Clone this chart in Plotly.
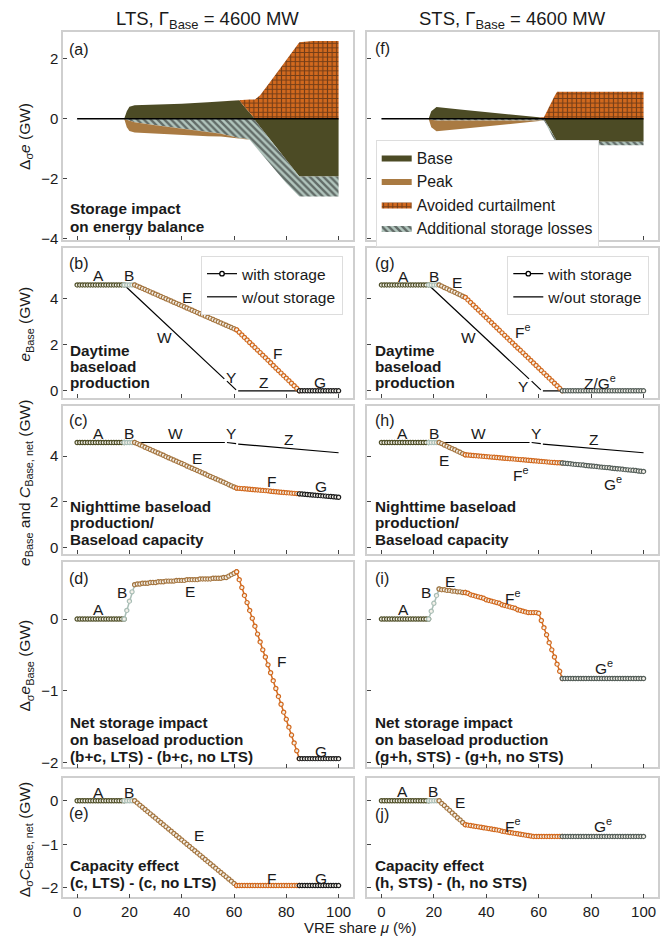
import plotly.graph_objects as go

W, H = 671, 943

# ---------------- data ----------------
mu = list(range(101))
xticks = [0, 20, 40, 60, 80, 100]

# segment boundaries (indices into mu) for A, B, E, F, G
lts_bounds = [0, 18, 22, 61, 85, 100]
sts_bounds = [0, 18, 22, 32, 69, 100]

# (b) LTS daytime baseload production, with storage
b_lts = [4.6] * 23 + [
    4.55, 4.50, 4.45, 4.40, 4.35, 4.30, 4.25, 4.20, 4.15, 4.10, 4.05, 4.00, 3.95,
    3.90, 3.85, 3.80, 3.75, 3.70, 3.65, 3.60, 3.55, 3.50, 3.45, 3.40, 3.35, 3.30,
    3.25, 3.20, 3.15, 3.10, 3.05, 3.00, 2.95, 2.90, 2.85, 2.80, 2.75, 2.70, 2.65] + [
    2.54, 2.43, 2.32, 2.21, 2.10, 1.99, 1.88, 1.77, 1.66, 1.55, 1.44, 1.33, 1.22,
    1.10, 0.99, 0.88, 0.77, 0.66, 0.55, 0.44, 0.33, 0.22, 0.11, 0.00] + [0.0] * 15

# (c) LTS nighttime baseload production / capacity
c_lts = [4.6] * 23 + [
    4.55, 4.50, 4.45, 4.39, 4.34, 4.29, 4.24, 4.19, 4.14, 4.09, 4.04, 3.98, 3.93,
    3.88, 3.83, 3.78, 3.73, 3.68, 3.63, 3.57, 3.52, 3.47, 3.42, 3.37, 3.32, 3.27,
    3.22, 3.16, 3.11, 3.06, 3.01, 2.96, 2.91, 2.86, 2.81, 2.75, 2.70, 2.65, 2.60] + [
    2.59, 2.58, 2.57, 2.56, 2.55, 2.54, 2.53, 2.52, 2.51, 2.50, 2.49, 2.48, 2.46,
    2.45, 2.44, 2.43, 2.42, 2.41, 2.40, 2.39, 2.38, 2.37, 2.36, 2.35] + [
    2.34, 2.33, 2.32, 2.31, 2.30, 2.29, 2.28, 2.27, 2.26, 2.25, 2.24, 2.23, 2.22,
    2.21, 2.20]

# (d) LTS net storage impact on baseload production
d_lts = [0.0] * 19 + [0.12, 0.25, 0.38, 0.48] + [
    0.49, 0.49, 0.50, 0.50, 0.50, 0.51, 0.51, 0.51, 0.52, 0.52, 0.52, 0.53, 0.53,
    0.53, 0.53, 0.54, 0.54, 0.54, 0.54, 0.55, 0.55, 0.55, 0.55, 0.55, 0.56, 0.56,
    0.56, 0.56, 0.56, 0.57, 0.57, 0.57, 0.57, 0.58, 0.58, 0.60, 0.62, 0.64, 0.66] + [
    0.55, 0.44, 0.33, 0.23, 0.12, 0.01, -0.10, -0.21, -0.32, -0.43, -0.53, -0.64,
    -0.75, -0.86, -0.97, -1.08, -1.19, -1.30, -1.40, -1.51, -1.62, -1.73, -1.84,
    -1.95] + [-1.95] * 15

# (e) LTS capacity effect
e_lts = [0.0] * 23 + [
    -0.05, -0.10, -0.15, -0.20, -0.25, -0.30, -0.35, -0.40, -0.45, -0.50, -0.55,
    -0.60, -0.65, -0.70, -0.75, -0.80, -0.85, -0.90, -0.95, -1.00, -1.05, -1.10,
    -1.15, -1.20, -1.25, -1.30, -1.35, -1.40, -1.45, -1.50, -1.55, -1.60, -1.65,
    -1.70, -1.75, -1.80, -1.85, -1.90, -1.95] + [-1.95] * 24 + [-1.95] * 15

# (g) STS daytime
g_sts = [4.6] * 23 + [4.55, 4.49, 4.44, 4.38, 4.33, 4.28, 4.22, 4.17, 4.11, 4.06] + [
    3.95, 3.84, 3.73, 3.62, 3.51, 3.40, 3.29, 3.18, 3.07, 2.96, 2.85, 2.74, 2.63,
    2.52, 2.41, 2.30, 2.19, 2.08, 1.97, 1.86, 1.76, 1.65, 1.54, 1.43, 1.32, 1.21,
    1.10, 0.99, 0.88, 0.77, 0.66, 0.55, 0.44, 0.33, 0.22, 0.11, 0.00] + [0.0] * 31

# (h) STS nighttime
h_sts = [4.6] * 23 + [4.55, 4.49, 4.44, 4.38, 4.33, 4.28, 4.22, 4.17, 4.11, 4.06] + [
    4.05, 4.04, 4.03, 4.02, 4.01, 4.00, 3.99, 3.98, 3.97, 3.96, 3.95, 3.94, 3.93,
    3.92, 3.91, 3.90, 3.89, 3.88, 3.87, 3.86, 3.85, 3.84, 3.83, 3.82, 3.81, 3.80,
    3.79, 3.78, 3.77, 3.76, 3.75, 3.74, 3.73, 3.72, 3.71, 3.71, 3.70] + [
    3.69, 3.68, 3.67, 3.65, 3.64, 3.63, 3.62, 3.61, 3.59, 3.58, 3.57, 3.56, 3.55,
    3.53, 3.52, 3.51, 3.50, 3.49, 3.47, 3.46, 3.45, 3.44, 3.43, 3.41, 3.40, 3.39,
    3.38, 3.37, 3.35, 3.34, 3.33]

# (i) STS net impact
i_sts = [0.0] * 19 + [0.11, 0.22, 0.33, 0.42] + [
    0.41, 0.41, 0.40, 0.40, 0.39, 0.39, 0.38, 0.38, 0.37, 0.37] + [
    0.36, 0.34, 0.33, 0.32, 0.31, 0.30, 0.29, 0.27, 0.26, 0.25, 0.24, 0.23, 0.22,
    0.20, 0.19, 0.18, 0.17, 0.16, 0.15, 0.13, 0.12, 0.11, 0.10, 0.09, 0.09, 0.09,
    0.09, 0.08, -0.02, -0.12, -0.22, -0.33, -0.43, -0.53, -0.63, -0.73, -0.83] + [-0.83] * 31

# (j) STS capacity effect
j_sts = [0.0] * 23 + [-0.06, -0.11, -0.17, -0.22, -0.28, -0.33, -0.39, -0.44, -0.50, -0.55] + [
    -0.56, -0.57, -0.58, -0.59, -0.60, -0.61, -0.62, -0.63, -0.64, -0.65, -0.66,
    -0.67, -0.68, -0.70, -0.71, -0.72, -0.73, -0.74, -0.75, -0.76, -0.77, -0.78,
    -0.79, -0.80, -0.81] + [-0.82] * 12 + [-0.82] * 31

# without-storage reference lines (W, Y, Z segments)
wo_day_x = [18, 56.3, None, 57.3, 60.8, None, 61.6, 100]
wo_day_y = [4.6, 0.52, None, 0.42, 0.04, None, 0.0, 0.0]
wo_night_x = [18, 56.5, None, 57.3, 60.8, None, 61.6, 100]
wo_night_y = [4.6, 4.6, None, 4.6, 4.55, None, 4.53, 4.15]

# (a) LTS energy balance components
mu_a = [0, 18, 19, 20, 22, 30, 40, 50, 55, 60, 62, 64, 66, 68, 70, 75, 80, 85, 90, 100]
base_pos_a = [0, 0, 0.25, 0.40, 0.45, 0.47, 0.50, 0.55, 0.58, 0.62, 0.62, 0.40, 0.18, 0, 0, 0, 0, 0, 0, 0]
curt_a = [0, 0, 0, 0, 0, 0, 0, 0, 0, 0, 0.02, 0.24, 0.46, 0.64, 0.78, 1.37, 1.96, 2.55, 2.59, 2.59]
base_neg_a = [0, 0, 0, 0, 0, 0, 0, 0, 0, 0, 0, 0, 0, -0.05, -0.27, -0.83, -1.39, -1.93, -1.93, -1.93]
loss_a = [0, 0, -0.03, -0.06, -0.12, -0.22, -0.33, -0.45, -0.50, -0.60, -0.65, -0.66, -0.70, -0.86, -0.85, -0.80, -0.76, -0.66, -0.66, -0.66]
peak_a = [0, 0, -0.25, -0.35, -0.34, -0.28, -0.21, -0.13, -0.09, -0.03, 0, 0, 0, 0, 0, 0, 0, 0, 0, 0]

# (f) STS energy balance components
mu_f = [0, 18, 19, 21, 30, 40, 50, 60, 62, 64, 66, 67, 70, 80, 90, 100]
base_pos_f = [0, 0, 0.25, 0.39, 0.31, 0.22, 0.13, 0.05, 0, 0, 0, 0, 0, 0, 0, 0]
curt_f = [0, 0, 0, 0, 0, 0, 0, 0, 0.05, 0.42, 0.75, 0.90, 0.90, 0.90, 0.90, 0.90]
base_neg_f = [0, 0, 0, 0, 0, 0, 0, 0, 0, -0.30, -0.60, -0.77, -0.77, -0.77, -0.77, -0.77]
loss_f = [0, 0, -0.03, -0.06, -0.06, -0.06, -0.06, -0.06, -0.06, -0.08, -0.10, -0.11, -0.11, -0.11, -0.11, -0.11]
peak_f = [0, 0, -0.25, -0.36, -0.28, -0.19, -0.10, -0.01, 0, 0, 0, 0, 0, 0, 0, 0]

zero_x = [0, 100]
zero_y = [0, 0]

# ---------------- styles ----------------
C_BASE = "#4c4b25"
C_PEAK = "#a97a42"
C_CURT = "#d2691e"
C_LOSS = "#b2c6be"
seg_col_lts = ["#4f4f28", "#a9beb6", "#a57641", "#d2691e", "#1c1c1c"]
seg_col_sts = ["#4f4f28", "#a9beb6", "#a57641", "#d2691e", "#56605b"]
MARKER_FILL = "#f4f1ea"
FONT = "Liberation Sans, Arial, Helvetica, sans-serif"
TXT = "#1a1a1a"


def py(v):
    return 1 - v / H


XL = [63 / W, 352.7 / W]
XR = [367.3 / W, 657.7 / W]
rows_px = [(32, 242), (250, 400.7), (409, 558), (566.7, 773), (784, 904)]
yranges = [[-4.05, 2.9], [-0.3, 6.2], [-0.28, 6.2], [-2.07, 0.79], [-2.22, 0.52]]
ytickvals = [[-4, -2, 0, 2], [0, 2, 4], [0, 2, 4], [-2, -1, 0], [-2, -1, 0]]


def names(p):
    return ("x" if p == 1 else f"x{p}", "y" if p == 1 else f"y{p}")


fig = go.Figure()


def add_areas(p, xs, bp, cu, bn, lo, pk, show):
    xa, ya = names(p)
    grp_p, grp_n = f"pos{p}", f"neg{p}"
    common = dict(x=xs, xaxis=xa, yaxis=ya, mode="lines", line=dict(width=0),
                  hoverinfo="skip", legend="legend")
    fig.add_trace(go.Scatter(y=bp, stackgroup=grp_p, fillcolor=C_BASE, name="Base",
                             showlegend=show, legendrank=1, **common))
    fig.add_trace(go.Scatter(y=cu, stackgroup=grp_p, fillcolor=C_CURT, name="Avoided curtailment",
                             fillpattern=dict(shape="+", fgcolor="#111111", bgcolor=C_CURT,
                                              size=4.6, solidity=0.42),
                             showlegend=show, legendrank=3, **common))
    fig.add_trace(go.Scatter(y=bn, stackgroup=grp_n, fillcolor=C_BASE, name="Base",
                             showlegend=False, **common))
    fig.add_trace(go.Scatter(y=lo, stackgroup=grp_n, fillcolor=C_LOSS, name="Additional storage losses",
                             fillpattern=dict(shape="\\", fgcolor="#111111", bgcolor=C_LOSS,
                                              size=4.8, solidity=0.5),
                             showlegend=show, legendrank=4, **common))
    fig.add_trace(go.Scatter(y=pk, stackgroup=grp_n, fillcolor=C_PEAK, name="Peak",
                             showlegend=show, legendrank=2, **common))
    fig.add_trace(go.Scatter(x=zero_x, y=zero_y, xaxis=xa, yaxis=ya, mode="lines",
                             line=dict(color="black", width=1.3), showlegend=False,
                             hoverinfo="skip"))


def add_wo(p, xs, ys):
    xa, ya = names(p)
    fig.add_trace(go.Scatter(x=xs, y=ys, xaxis=xa, yaxis=ya, mode="lines",
                             line=dict(color="black", width=1.2), showlegend=False,
                             hoverinfo="skip", connectgaps=False))


def add_series(p, vals, bounds, cols):
    xa, ya = names(p)
    for k in range(5):
        i0, i1 = bounds[k], bounds[k + 1]
        fig.add_trace(go.Scatter(
            x=mu[i0:i1 + 1], y=vals[i0:i1 + 1], xaxis=xa, yaxis=ya,
            mode="lines+markers", line=dict(color=cols[k], width=1.5),
            marker=dict(symbol="circle", size=4.2, color=MARKER_FILL,
                        line=dict(color=cols[k], width=1.2)),
            showlegend=False, hoverinfo="skip"))


# panel a / f
add_areas(1, mu_a, base_pos_a, curt_a, base_neg_a, loss_a, peak_a, False)
add_areas(6, mu_f, base_pos_f, curt_f, base_neg_f, loss_f, peak_f, True)

# panels b,c,g,h without storage
add_wo(2, wo_day_x, wo_day_y)
add_wo(3, wo_night_x, wo_night_y)
add_wo(7, wo_day_x, wo_day_y)
add_wo(8, wo_night_x, wo_night_y)

for p, vals in [(2, b_lts), (3, c_lts), (4, d_lts), (5, e_lts)]:
    add_series(p, vals, lts_bounds, seg_col_lts)
for p, vals in [(7, g_sts), (8, h_sts), (9, i_sts), (10, j_sts)]:
    add_series(p, vals, sts_bounds, seg_col_sts)

# legend dummies for b and g
for p, lg in [(2, "legend2"), (7, "legend3")]:
    xa, ya = names(p)
    fig.add_trace(go.Scatter(x=[None], y=[None], xaxis=xa, yaxis=ya, mode="lines+markers",
                             line=dict(color="black", width=1.2),
                             marker=dict(symbol="circle", size=4.5, color="white",
                                         line=dict(color="black", width=1.3)),
                             name="with storage", legend=lg, hoverinfo="skip"))
    fig.add_trace(go.Scatter(x=[None], y=[None], xaxis=xa, yaxis=ya, mode="lines",
                             line=dict(color="black", width=1.2),
                             name="w/out storage", legend=lg, hoverinfo="skip"))

# ---------------- axes ----------------
axcommon = dict(showline=True, mirror=True, linecolor="#cfcfcf", linewidth=1.5,
                ticks="inside", ticklen=4, tickwidth=1, tickcolor="#444444",
                showgrid=False, zeroline=False,
                tickfont=dict(size=15, color=TXT, family=FONT), fixedrange=True)
layout_axes = {}
for col in range(2):
    for row in range(5):
        p = col * 5 + row + 1
        xa, ya = names(p)
        xk = "xaxis" if p == 1 else f"xaxis{p}"
        yk = "yaxis" if p == 1 else f"yaxis{p}"
        layout_axes[xk] = dict(domain=XL if col == 0 else XR, anchor=ya,
                               range=[-5.4, 105.4], tickvals=xticks,
                               showticklabels=(row == 4), **axcommon)
        layout_axes[yk] = dict(domain=[py(rows_px[row][1]), py(rows_px[row][0])],
                               anchor=xa, range=yranges[row], tickvals=ytickvals[row],
                               showticklabels=(col == 0), **axcommon)

# ---------------- annotations ----------------
ann = []


def txt(x, y, s, size=15, xanchor="center", yanchor="middle", angle=0, xref="paper", yref="paper"):
    ann.append(dict(x=x, y=y, text=s, xref=xref, yref=yref, showarrow=False,
                    xanchor=xanchor, yanchor=yanchor, textangle=angle,
                    font=dict(size=size, color=TXT, family=FONT)))


# column titles
txt(207.9 / W, py(20), "LTS, Γ<sub>Base</sub> = 4600 MW", size=18.5)
txt(512.5 / W, py(20), "STS, Γ<sub>Base</sub> = 4600 MW", size=18.5)

# y-axis titles
ytitles = [("Δ<sub>σ</sub><i>e</i> (GW)", 137.5),
           ("<i>e</i><sub>Base</sub> (GW)", 326.5),
           ("<i>e</i><sub>Base</sub> and <i>C</i><sub>Base, net</sub> (GW)", 487),
           ("Δ<sub>σ</sub><i>e</i><sub>Base</sub> (GW)", 671),
           ("Δ<sub>σ</sub><i>C</i><sub>Base, net</sub> (GW)", 846)]
for s, yc in ytitles:
    txt(25.5 / W, py(yc), s, size=15.5, angle=-90)

# x-axis title
txt(360 / W, py(934), "VRE share <i>μ</i> (%)", size=15)

# panel letters
letters = [("(a)", 67, 49.5), ("(b)", 67, 265.5), ("(c)", 67, 424), ("(d)", 67, 582.5), ("(e)", 67, 819.5),
           ("(f)", 373, 48.5), ("(g)", 373, 265.5), ("(h)", 373, 424), ("(i)", 373, 582.5), ("(j)", 373, 820.5)]
for s, x, y in letters:
    txt(x / W, py(y), s, size=16, xanchor="left")

# bold descriptions (one annotation per line)
blocks = [
    (68, [210.5, 228], ["Storage impact", "on energy balance"]),
    (68, [352.7, 369.2, 385.7], ["Daytime", "baseload", "production"]),
    (372.5, [352.7, 369.2, 385.7], ["Daytime", "baseload", "production"]),
    (68, [510, 526.7, 543.3], ["Nighttime baseload", "production/", "Baseload capacity"]),
    (372.5, [510, 526.7, 543.3], ["Nighttime baseload", "production/", "Baseload capacity"]),
    (68, [728.3, 745, 761.7], ["Net storage impact", "on baseload production", "(b+c, LTS) - (b+c, no LTS)"]),
    (372.5, [728.3, 745, 761.7], ["Net storage impact", "on baseload production", "(g+h, STS) - (g+h, no STS)"]),
    (68, [872.3, 889], ["Capacity effect", "(c, LTS) - (c, no LTS)"]),
    (372.5, [872.3, 889], ["Capacity effect", "(h, STS) - (h, no STS)"]),
]
for x, ys, lines in blocks:
    for y, s in zip(ys, lines):
        txt(x / W, py(y), f"<b>{s}</b>", size=15.3, xanchor="left")

# curve labels (data coordinates)
labels = {
    2: [("A", 8.2, 5.0), ("B", 20, 5.0), ("E", 42, 4.07), ("W", 33.3, 2.32), ("F", 76.7, 1.63),
        ("Y", 58.7, 0.56), ("Z", 71.4, 0.36), ("G", 93, 0.36)],
    3: [("A", 8.2, 5.0), ("B", 20, 5.0), ("W", 37.5, 5.0), ("Y", 58.7, 5.0), ("Z", 81, 4.71),
        ("E", 45.9, 3.91), ("F", 74.2, 2.9), ("G", 93.1, 2.65)],
    4: [("A", 8.2, 0.14), ("B", 17.1, 0.37), ("E", 43, 0.38), ("F", 78, -0.59), ("G", 93.1, -1.85)],
    5: [("A", 8.2, 0.19), ("B", 20, 0.19), ("E", 46.5, -0.8), ("F", 74.2, -1.79), ("G", 93.1, -1.79)],
    7: [("A", 8.5, 4.97), ("B", 20, 4.97), ("E", 28.9, 4.71), ("W", 33.1, 2.32),
        ("F<sup>e</sup>", 54, 2.58), ("Y", 54.1, 0.19), ("Z/G<sup>e</sup>", 83.5, 0.4)],
    8: [("A", 8, 5.0), ("B", 20, 5.0), ("W", 36.9, 5.0), ("Y", 59, 5.0), ("Z", 80.9, 4.71),
        ("E", 23.9, 3.81), ("F<sup>e</sup>", 53.2, 3.23), ("G<sup>e</sup>", 88.5, 2.84)],
    9: [("A", 8.3, 0.13), ("B", 16.9, 0.37), ("E", 26.1, 0.52), ("F<sup>e</sup>", 50, 0.31),
        ("G<sup>e</sup>", 85, -0.67)],
    10: [("A", 8, 0.21), ("B", 19.8, 0.21), ("E", 29.9, -0.04), ("F<sup>e</sup>", 50, -0.55),
         ("G<sup>e</sup>", 84.4, -0.55)],
}
for p, labs in labels.items():
    xa, ya = names(p)
    for s, x, y in labs:
        txt(x, y, s, size=15.5, xref=xa, yref=ya)

legend_common = dict(bgcolor="white", bordercolor="#dddddd", borderwidth=1,
                     itemwidth=30, traceorder="normal")

fig.update_layout(
    width=W, height=H, margin=dict(l=0, r=0, t=0, b=0),
    paper_bgcolor="white", plot_bgcolor="white",
    font=dict(family=FONT, color=TXT),
    annotations=ann,
    legend=dict(x=375.7 / W, y=py(140.7), xanchor="left", yanchor="top",
                font=dict(size=15.8, color=TXT, family=FONT), **legend_common),
    legend2=dict(x=343 / W, y=py(258), xanchor="right", yanchor="top",
                 font=dict(size=15.5, color=TXT, family=FONT), **legend_common),
    legend3=dict(x=649.3 / W, y=py(258), xanchor="right", yanchor="top",
                 font=dict(size=15.5, color=TXT, family=FONT), **legend_common),
    **layout_axes,
)

fig.write_html("out.html")
